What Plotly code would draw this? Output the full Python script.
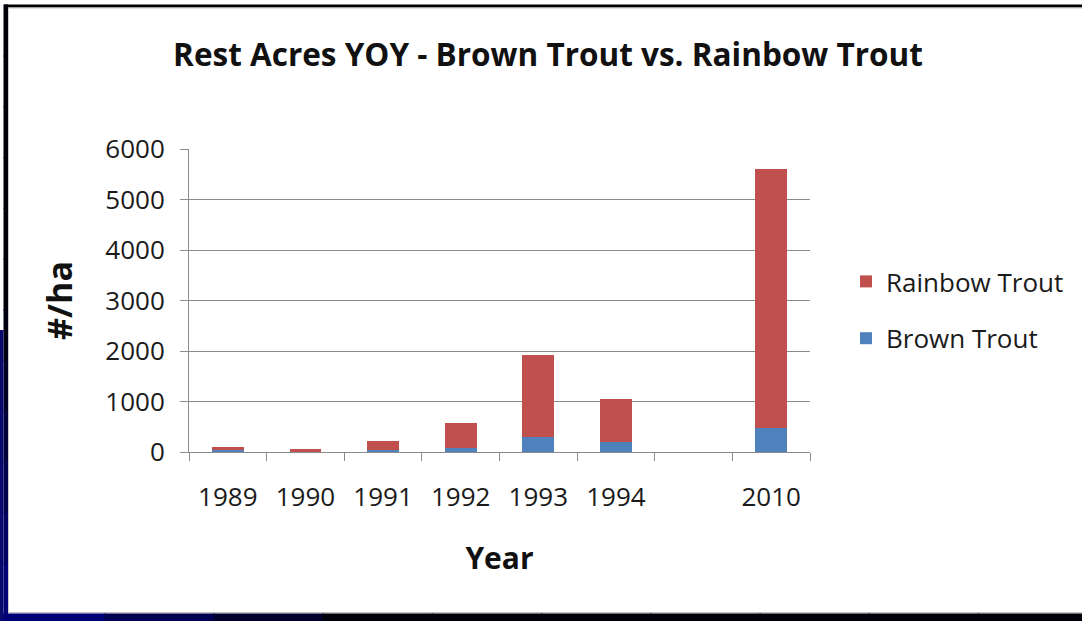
import plotly.graph_objects as go

years = ["1989", "1990", "1991", "1992", "1993", "1994", " ", "2010"]
brown_trout = [40, 5, 35, 80, 300, 200, None, 480]
rainbow_trout = [65, 48, 183, 500, 1620, 850, None, 5120]
y_ticks = [0, 1000, 2000, 3000, 4000, 5000, 6000]

W, H = 1082, 621
L, R, T, B = 189, 810, 149, 452


def px(x):
    return (x - L) / (R - L)


def py(y):
    return (B - y) / (B - T)


RED = "#c0504d"
BLUE = "#4f81bd"
GRID = "#8c8c8c"
TXT = "#1a1a1a"
FONT = "Open Sans"

fig = go.Figure()
fig.add_trace(go.Bar(x=years, y=brown_trout, name="Brown Trout", marker_color=BLUE,
                     marker_line_width=0, legendgroup="b", legendrank=2))
fig.add_trace(go.Bar(x=years, y=rainbow_trout, name="Rainbow Trout", marker_color=RED,
                     marker_line_width=0, legendgroup="r", legendrank=1))

shapes = []
# screenshot border: top black line
shapes.append(dict(type="rect", xref="paper", yref="paper", x0=px(4), x1=px(W + 5), y0=py(7.5), y1=py(4.5),
                   fillcolor="#000000", line_width=0, layer="above"))
shapes.append(dict(type="rect", xref="paper", yref="paper", x0=px(8), x1=px(W + 5), y0=py(8.5), y1=py(7.5),
                   fillcolor="#c4c4c4", line_width=0, layer="above"))
# left border, black fading to navy
n = 12
for i in range(n):
    y0 = 4.5 + (614 - 4.5) * i / n
    y1 = 4.5 + (614 - 4.5) * (i + 1) / n + 1.5
    t = max(0.0, (i - n * 0.45) / (n * 0.55))
    col = "rgb(%d,%d,%d)" % (int(5 * t), int(5 * t), int(8 + 130 * t))
    shapes.append(dict(type="rect", xref="paper", yref="paper", x0=px(3.5), x1=px(8), y0=py(min(y1, 614)), y1=py(y0),
                       fillcolor=col, line_width=0, layer="above"))
shapes.append(dict(type="rect", xref="paper", yref="paper", x0=px(8), x1=px(9), y0=py(612), y1=py(8),
                   fillcolor="#cccccc", line_width=0, layer="above"))
shapes.append(dict(type="rect", xref="paper", yref="paper", x0=px(8), x1=px(W + 5), y0=py(613.5), y1=py(612),
                   fillcolor="#c4c4c4", line_width=0, layer="above"))
# bottom dark band
m = 10
for i in range(m):
    x0 = -5 + (W + 10) * i / m
    x1 = -5 + (W + 10) * (i + 1) / m + 1.5
    t = max(0.0, 1 - i / 3.0)
    col = "rgb(%d,%d,%d)" % (0, 0, int(10 + 110 * t))
    shapes.append(dict(type="rect", xref="paper", yref="paper", x0=px(x0), x1=px(x1), y0=py(H + 5), y1=py(613.5),
                       fillcolor=col, line_width=0, layer="above"))
shapes.append(dict(type="rect", xref="paper", yref="paper", x0=px(-5), x1=px(3.5), y0=py(H + 5), y1=py(330),
                   fillcolor="#0a0a6e", line_width=0, layer="above"))

fig.update_layout(
    width=W, height=H,
    margin=dict(l=L, r=W - R, t=T, b=H - B, pad=0),
    paper_bgcolor="white", plot_bgcolor="white",
    barmode="stack", bargap=0.59,
    font=dict(family=FONT, size=26, color=TXT),
    title=dict(text="<b>Rest Acres YOY - Brown Trout vs. Rainbow Trout</b>",
               x=548 / W, xanchor="center", y=1 - 55 / H, yanchor="middle",
               font=dict(family=FONT, size=31.5, color="#111111")),
    showlegend=True,
    legend=dict(x=px(846), xanchor="left", y=py(258), yanchor="top",
                traceorder="grouped", tracegroupgap=20,
                font=dict(family=FONT, size=26, color=TXT), bgcolor="rgba(0,0,0,0)"),
    shapes=shapes,
    xaxis=dict(type="category", categoryorder="array", categoryarray=years,
               showline=True, linecolor=GRID, linewidth=1,
               ticks="outside", ticklen=8, tickcolor=GRID, tickson="boundaries",
               showgrid=False, tickfont=dict(size=26, color=TXT), ticklabelstandoff=22,
               title=dict(text="<b>Year</b>", standoff=34, font=dict(size=30, color="#111111"))),
    yaxis=dict(range=[0, 6000], tickvals=y_ticks, ticktext=[str(v) for v in y_ticks],
               showline=True, linecolor=GRID, linewidth=1,
               ticks="outside", ticklen=8, tickcolor=GRID,
               showgrid=True, gridcolor=GRID, gridwidth=1, zeroline=False,
               tickfont=dict(size=26, color=TXT), ticklabelstandoff=10,
               title=dict(text="<b>#/ha</b>", standoff=22, font=dict(size=34, color="#111111"))),
)

fig.write_html("out.html", config={"displayModeBar": False},
               post_script="document.body.style.margin='0px';document.body.style.padding='0px';")
